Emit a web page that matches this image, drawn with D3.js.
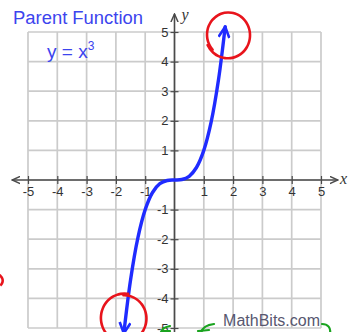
<!DOCTYPE html>
<html>
<head>
<meta charset="utf-8">
<script src="https://cdn.jsdelivr.net/npm/d3@7"></script>
<style>
  html, body { margin: 0; padding: 0; background: #fff; }
  svg { display: block; }
</style>
</head>
<body>
<svg id="chart" width="348" height="332"></svg>
<script>
// Tick values on both axes
const xTicks = [-5, -4, -3, -2, -1, 0, 1, 2, 3, 4, 5];
const yTicks = [-5, -4, -3, -2, -1, 0, 1, 2, 3, 4, 5];

// Sample points of the cubic y = x³
const curveX = [-1.73, -1.5, -1.25, -1, -0.75, -0.5, -0.25, 0, 0.25, 0.5, 0.75, 1, 1.25, 1.5, 1.73];
const curveY = [-5.18, -3.375, -1.953, -1, -0.422, -0.125, -0.016, 0, 0.016, 0.125, 0.422, 1, 1.953, 3.375, 5.18];

const title = "Parent Function";
const equation = "x";
const credit = "MathBits.com";

const svg = d3.select("#chart");
const W = 348, H = 332;

const x = d3.scaleLinear().domain([-5, 5]).range([28, 321]);
const y = d3.scaleLinear().domain([-5, 5]).range([328, 32]);

const gridColor = "#cbcbcb";
const axisColor = "#4a4a4a";
const blue = "#1f2bff";

// Grid
const grid = svg.append("g");
grid.selectAll("line.v").data(xTicks).join("line")
  .attr("x1", d => x(d)).attr("x2", d => x(d))
  .attr("y1", y(5)).attr("y2", y(-5))
  .attr("stroke", gridColor).attr("stroke-width", 1.7);
grid.selectAll("line.h").data(yTicks).join("line")
  .attr("y1", d => y(d)).attr("y2", d => y(d))
  .attr("x1", x(-5)).attr("x2", x(5))
  .attr("stroke", gridColor).attr("stroke-width", 1.7);

// Arrow markers
const defs = svg.append("defs");
defs.append("marker")
  .attr("id", "axisArrow").attr("viewBox", "0 0 10 10")
  .attr("refX", 9).attr("refY", 5)
  .attr("markerWidth", 9).attr("markerHeight", 9)
  .attr("markerUnits", "userSpaceOnUse")
  .attr("orient", "auto-start-reverse")
  .append("path").attr("d", "M0,1 L9,5 L0,9")
  .attr("fill", "none").attr("stroke", axisColor).attr("stroke-width", 1.6);
defs.append("marker")
  .attr("id", "curveArrow").attr("viewBox", "0 0 12 12")
  .attr("refX", 11).attr("refY", 6)
  .attr("markerWidth", 13).attr("markerHeight", 13)
  .attr("markerUnits", "userSpaceOnUse")
  .attr("orient", "auto-start-reverse")
  .append("path").attr("d", "M1,1 L11,6 L1,11")
  .attr("fill", "none").attr("stroke", blue).attr("stroke-width", 2.4)
  .attr("stroke-linejoin", "round");

// Axis lines with arrows at both ends
svg.append("line")
  .attr("x1", 12).attr("x2", 338)
  .attr("y1", y(0)).attr("y2", y(0))
  .attr("stroke", axisColor).attr("stroke-width", 1.6)
  .attr("marker-start", "url(#axisArrow)").attr("marker-end", "url(#axisArrow)");
svg.append("line")
  .attr("x1", x(0)).attr("x2", x(0))
  .attr("y1", H + 6).attr("y2", 14)
  .attr("stroke", axisColor).attr("stroke-width", 1.6)
  .attr("marker-end", "url(#axisArrow)");

const fmt = d => (d < 0 ? "-" + Math.abs(d) : String(d));

// X axis ticks and labels (ticks straddle the axis)
const xAxis = d3.axisBottom(x)
  .tickValues(xTicks.filter(d => d !== 0))
  .tickFormat(fmt).tickSize(8).tickPadding(3);
const gx = svg.append("g")
  .attr("transform", `translate(0,${y(0) - 4})`)
  .call(xAxis);
gx.select(".domain").remove();
gx.selectAll(".tick line").attr("stroke", axisColor).attr("stroke-width", 1.2);
gx.selectAll(".tick text")
  .attr("fill", "#333").attr("font-size", 13)
  .attr("font-family", "Liberation Sans, Arial, sans-serif");

// Y axis ticks and labels
const yAxis = d3.axisLeft(y)
  .tickValues(yTicks.filter(d => d !== 0))
  .tickFormat(fmt).tickSize(8).tickPadding(2);
const gy = svg.append("g")
  .attr("transform", `translate(${x(0) + 4},0)`)
  .call(yAxis);
gy.select(".domain").remove();
gy.selectAll(".tick line").attr("stroke", axisColor).attr("stroke-width", 1.2);
gy.selectAll(".tick text")
  .attr("fill", "#333").attr("font-size", 13)
  .attr("font-family", "Liberation Sans, Arial, sans-serif");

// Axis names
svg.append("text").attr("x", x(0) + 7).attr("y", 20)
  .attr("font-family", "Liberation Serif, Times New Roman, serif")
  .attr("font-style", "italic").attr("font-size", 16).attr("fill", "#333")
  .text("y");
svg.append("text").attr("x", 340).attr("y", y(0) + 4)
  .attr("font-family", "Liberation Serif, Times New Roman, serif")
  .attr("font-style", "italic").attr("font-size", 16).attr("fill", "#333")
  .text("x");

// The cubic curve
const pts = curveX.map((d, i) => [d, curveY[i]]);
svg.append("path")
  .datum(pts)
  .attr("d", d3.line().x(d => x(d[0])).y(d => y(d[1])).curve(d3.curveCatmullRom))
  .attr("fill", "none").attr("stroke", blue).attr("stroke-width", 3.4)
  .attr("stroke-linecap", "round")
  .attr("marker-start", "url(#curveArrow)").attr("marker-end", "url(#curveArrow)");

// Title and equation
const titleColor = "#3c44ee";
svg.append("text").attr("x", 13).attr("y", 24)
  .attr("font-family", "Liberation Sans, Arial, sans-serif")
  .attr("font-size", 18).attr("fill", titleColor)
  .attr("textLength", 130).attr("lengthAdjust", "spacingAndGlyphs")
  .text(title);
const eq = svg.append("text").attr("x", 47).attr("y", 58)
  .attr("font-family", "Liberation Sans, Arial, sans-serif")
  .attr("font-size", 19).attr("fill", titleColor);
eq.append("tspan").text("y = " + equation);
eq.append("tspan").attr("dy", -8).attr("font-size", 12).text("3");

// Credit
svg.append("text").attr("x", 320).attr("y", 326)
  .attr("text-anchor", "end")
  .attr("font-family", "Liberation Sans, Arial, sans-serif")
  .attr("font-size", 16).attr("fill", "#575770")
  .text(credit);

// Hand-drawn red loops around the arrow tips
const red = "#e8141c";
function loop(cx, cy, rx, ry, a0, sweep) {
  const n = 40, p = [];
  for (let i = 0; i <= n; i++) {
    const a = a0 + sweep * i / n;
    const k = 1 + 0.08 * i / n;
    p.push([cx + rx * k * Math.cos(a), cy + ry * k * Math.sin(a)]);
  }
  return d3.line().curve(d3.curveBasis)(p);
}
svg.append("path")
  .attr("d", loop(x(1.83), y(4.9), 21, 22, 2.4, 2 * Math.PI + 0.3))
  .attr("fill", "none").attr("stroke", red).attr("stroke-width", 2.6)
  .attr("stroke-linecap", "round");
svg.append("path")
  .attr("d", loop(x(-1.72), y(-4.67), 22, 23, -1.6, 2 * Math.PI + 0.2))
  .attr("fill", "none").attr("stroke", red).attr("stroke-width", 2.6)
  .attr("stroke-linecap", "round");
svg.append("path")
  .attr("d", loop(-14, 280, 16, 9, -0.6, 1.2))
  .attr("fill", "none").attr("stroke", red).attr("stroke-width", 2.6);

// Green pen strokes along the bottom edge
const green = "#1aa31f";
const strokes = [
  "M170,326 C164,327 162,329 161,332",
  "M163,331 L170,331",
  "M214,324 C206,325 202,328 201,333",
  "M198,331 L209,330",
  "M322,324 C328,324 331,328 330,333"
];
svg.selectAll("path.pen").data(strokes).join("path")
  .attr("class", "pen").attr("d", d => d)
  .attr("fill", "none").attr("stroke", green).attr("stroke-width", 2.2)
  .attr("stroke-linecap", "round");
</script>
</body>
</html>
